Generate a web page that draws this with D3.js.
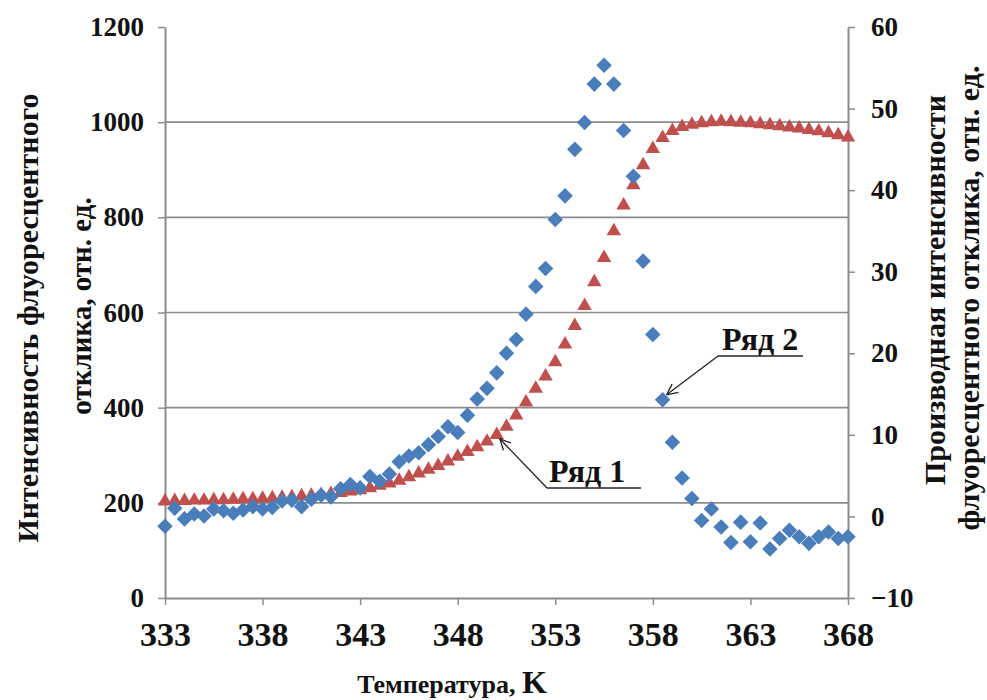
<!DOCTYPE html>
<html>
<head>
<meta charset="utf-8">
<script src="https://cdn.jsdelivr.net/npm/d3@7"></script>
<style>
  body { margin: 0; background: #fff; }
  svg text { font-family: "Liberation Serif", "Times New Roman", serif; font-weight: bold; fill: #111; }
</style>
</head>
<body>
<svg width="987" height="700"></svg>
<script>
// temperature, K (step 0.5)
var temps = d3.range(333, 368.001, 0.5);

// Ряд 1 - интенсивность (левая ось)
var ryad1 = [203, 204, 204, 205, 205, 206, 206, 207, 208, 208,
             209, 210, 211, 212, 214, 215, 217, 219, 221, 224,
             227, 231, 236, 241, 247, 254, 262, 270, 278, 287,
             297, 307, 317, 329, 343, 360, 384, 411, 440, 466,
             496, 533, 572, 614, 664, 715, 771, 825, 868, 910,
             944, 967, 982, 990, 995, 998, 1000, 1001, 1000, 999,
             998, 996, 994, 992, 989, 987, 984, 981, 977, 973, 968];

// Ряд 2 - производная (правая ось)
var ryad2 = [-1.2, 1.0, -0.3, 0.3, 0.05, 0.9, 0.7, 0.4, 0.8, 1.2,
             0.9, 1.1, 1.9, 2.0, 1.2, 2.1, 2.6, 2.4, 3.4, 3.9,
             3.5, 4.9, 4.3, 5.2, 6.7, 7.4, 7.8, 8.8, 9.8, 11.0,
             10.3, 12.4, 14.4, 15.7, 17.6, 20.0, 21.7, 24.8, 28.2, 30.4,
             36.4, 39.3, 45.0, 48.3, 53.0, 55.3, 53.0, 47.3, 41.7, 31.3,
             22.3, 14.3, 9.1, 4.7, 2.2, -0.5, 0.9, -1.3, -3.2, -0.7,
             -3.1, -0.8, -4.0, -2.7, -1.7, -2.5, -3.3, -2.5, -1.9, -2.7, -2.5];

var xTicks = [333, 338, 343, 348, 353, 358, 363, 368];
var leftTicks = [0, 200, 400, 600, 800, 1000, 1200];
var rightTicks = [-10, 0, 10, 20, 30, 40, 50, 60];

var svg = d3.select("svg");
var pLeft = 165, pRight = 848, pTop = 27, pBottom = 598;

var x = d3.scaleLinear().domain([333, 368]).range([pLeft, pRight]);
var yL = d3.scaleLinear().domain([0, 1200]).range([pBottom, pTop]);
var yR = d3.scaleLinear().domain([-10, 60]).range([pBottom, pTop]);

// gridlines
svg.append("g").selectAll("line")
    .data(leftTicks.filter(function(d) { return d > 0 && d < 1200; }))
    .enter().append("line")
    .attr("x1", pLeft).attr("x2", pRight)
    .attr("y1", function(d) { return yL(d); })
    .attr("y2", function(d) { return yL(d); })
    .attr("stroke", "#8c8c8c").attr("stroke-width", 1.6);

// axes
var gL = svg.append("g").attr("transform", "translate(" + pLeft + ",0)")
    .call(d3.axisLeft(yL).tickValues(leftTicks).tickSize(7).tickSizeOuter(0).tickPadding(14)
        .tickFormat(d3.format("d")));
var gR = svg.append("g").attr("transform", "translate(" + pRight + ",0)")
    .call(d3.axisRight(yR).tickValues(rightTicks).tickSize(7).tickSizeOuter(0).tickPadding(16)
        .tickFormat(d3.format("d")));
var gX = svg.append("g").attr("transform", "translate(0," + pBottom + ")")
    .call(d3.axisBottom(x).tickValues(xTicks).tickSize(7).tickSizeOuter(0).tickPadding(10)
        .tickFormat(d3.format("d")));

[gL, gR, gX].forEach(function(g) {
    g.select(".domain").attr("stroke", "#8c8c8c").attr("stroke-width", 2);
    g.selectAll(".tick line").attr("stroke", "#8c8c8c").attr("stroke-width", 1.5);
    g.selectAll("text").attr("fill", "#111").style("font-family", "Liberation Serif").style("font-weight", "bold");
});
gL.selectAll("text").style("font-size", "27px");
gR.selectAll("text").style("font-size", "27px");
gX.selectAll("text").style("font-size", "34px").attr("dy", "0.9em");

// Ряд 1 triangles
var tri = d3.symbol().type(d3.symbolTriangle).size(90);
svg.append("g").selectAll("path")
    .data(temps.map(function(t, i) { return [t, ryad1[i]]; }))
    .enter().append("path")
    .attr("d", tri)
    .attr("transform", function(d) { return "translate(" + x(d[0]) + "," + yL(d[1]) + ")"; })
    .attr("fill", "#c0504d");

// Ряд 2 diamonds
svg.append("g").selectAll("rect")
    .data(temps.map(function(t, i) { return [t, ryad2[i]]; }))
    .enter().append("rect")
    .attr("x", -5.5).attr("y", -5.5).attr("width", 11).attr("height", 11)
    .attr("transform", function(d) { return "translate(" + x(d[0]) + "," + yR(d[1]) + ") rotate(45)"; })
    .attr("fill", "#4a7ebb");

// annotations
function callout(tipX, tipY, baseX, baseY, lineEnd, label, textX) {
    var g = svg.append("g");
    g.append("line").attr("x1", baseX).attr("y1", baseY).attr("x2", lineEnd).attr("y2", baseY)
        .attr("stroke", "#222").attr("stroke-width", 1.3);
    g.append("line").attr("x1", baseX).attr("y1", baseY).attr("x2", tipX).attr("y2", tipY)
        .attr("stroke", "#222").attr("stroke-width", 1.3);
    var ang = Math.atan2(baseY - tipY, baseX - tipX);
    var len = 12, spread = 0.45;
    [ang - spread, ang + spread].forEach(function(a) {
        g.append("line").attr("x1", tipX).attr("y1", tipY)
            .attr("x2", tipX + len * Math.cos(a)).attr("y2", tipY + len * Math.sin(a))
            .attr("stroke", "#222").attr("stroke-width", 1.3);
    });
    g.append("text").attr("x", textX).attr("y", baseY - 6).style("font-size", "32px").text(label);
}
var i1 = temps.indexOf(350), i2 = temps.indexOf(358.5);
callout(x(temps[i1]) + 3, yL(ryad1[i1]) + 4, 547, 488, 641, "Ряд 1", 549);
callout(x(temps[i2]) + 4, yR(ryad2[i2]) - 5, 718, 356, 803, "Ряд 2", 722);

// axis titles
svg.append("text").attr("transform", "translate(38,318) rotate(-90)")
    .attr("text-anchor", "middle").style("font-size", "30px").text("Интенсивность флуоресцентного");
svg.append("text").attr("transform", "translate(91,306) rotate(-90)")
    .attr("text-anchor", "middle").style("font-size", "29px").text("отклика, отн. ед.");
svg.append("text").attr("transform", "translate(945,290) rotate(-90)")
    .attr("text-anchor", "middle").style("font-size", "30px").text("Производная интенсивности");
svg.append("text").attr("transform", "translate(979,298) rotate(-90)")
    .attr("text-anchor", "middle").style("font-size", "30px").text("флуоресцентного отклика, отн. ед.");

var xt = svg.append("text").attr("x", 452).attr("y", 693).attr("text-anchor", "middle");
xt.append("tspan").style("font-size", "26px").text("Температура, ");
xt.append("tspan").style("font-size", "32px").text("K");
</script>
</body>
</html>
